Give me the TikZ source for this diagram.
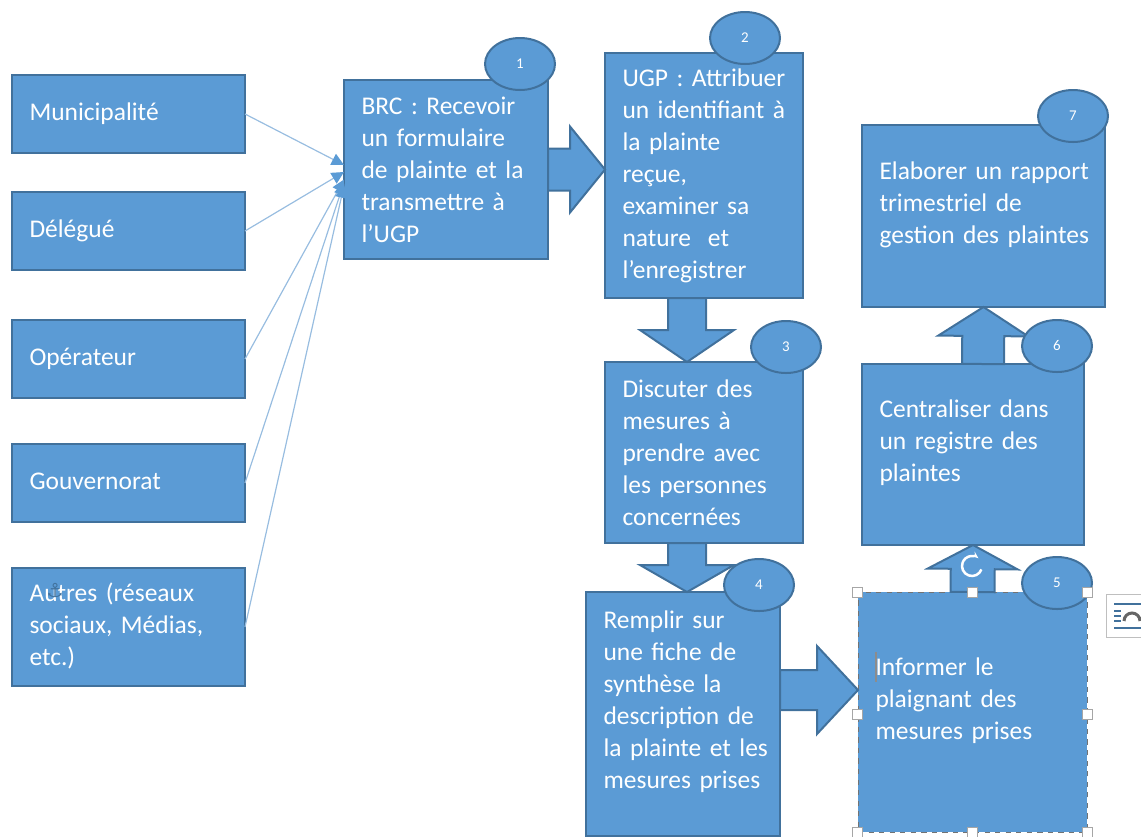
\documentclass[tikz,border=0pt]{standalone}
\usepackage{fontspec}
\setmainfont{Carlito}
\newfontfamily\symbfont{DejaVu Sans}
\usetikzlibrary{calc,arrows.meta,shapes.geometric}
\definecolor{boxblue}{HTML}{5B9BD5}
\definecolor{boxline}{HTML}{41719C}
\definecolor{thinblue}{HTML}{98BDE0}
\def\px{0.02cm}
\def\boxstrut{\rule[-4pt]{0pt}{15pt}}
\tikzset{
    bluebox/.style 2 args={draw=boxline, fill=boxblue, line width=2*\px, anchor=north west,
        minimum width=#1*\px, minimum height=#2*\px, text width=#1*\px-35*\px,
        inner xsep=17.5*\px, inner ysep=0pt, outer sep=0pt, align=left, text=white,
        font=\fontsize{14.5}{18.2}\selectfont,
        execute at begin node={\rightskip=-15pt plus 1fil\relax}},
    badge/.style={draw=boxline, fill=boxblue, line width=2*\px, ellipse, minimum width=70*\px,
        minimum height=52*\px, inner sep=0pt, text=white, font=\fontsize{8.5}{10}\selectfont},
    thinarrow/.style={draw=thinblue, line width=1.2*\px,
        -{Triangle[length=7pt,width=7pt,color=boxblue]}},
    blockarrow/.style n args={3}{draw=boxline, fill=boxblue, line width=2*\px, line join=miter,
        to path={
            ($(\tikztostart)!#1*\px!90:(\tikztotarget)$)
            -- ($($(\tikztotarget)!#3*\px!(\tikztostart)$)!#1*\px!90:(\tikztotarget)$)
            -- ($($(\tikztotarget)!#3*\px!(\tikztostart)$)!#2*\px!90:(\tikztotarget)$)
            -- (\tikztotarget)
            -- ($($(\tikztotarget)!#3*\px!(\tikztostart)$)!#2*\px!-90:(\tikztotarget)$)
            -- ($($(\tikztotarget)!#3*\px!(\tikztostart)$)!#1*\px!-90:(\tikztotarget)$)
            -- ($(\tikztostart)!#1*\px!-90:(\tikztotarget)$)
            -- cycle}},
    handle/.style={draw=black!35, fill=white, line width=1*\px, minimum size=10*\px, inner sep=0pt}
}

\begin{document}
\begin{tikzpicture}[x=\px, y=-\px]
    \useasboundingbox (0, 0) rectangle (1141, 836);
    \clip (0, 0) rectangle (1141, 836);

    % sources
    \foreach \name/\ypos/\hgt/\lbl in {muni/75/78/{Municipalité}, dele/192/78/{Délégué},
        oper/320/78/{Opérateur}, gouv/444/78/{Gouvernorat},
        autr/568/118/{Autres (réseaux\\ sociaux, Médias,\\ etc.)}} {
        \node[bluebox={233}{\hgt}] (\name) at (12, \ypos) {\boxstrut\lbl\boxstrut};
    }

    % steps
    \node[bluebox={204}{179}] (brc) at (344, 80) {BRC : Recevoir\\ un formulaire\\ de plainte et la\\ transmettre à\\ l’UGP};
    \node[bluebox={198}{245}] (ugp) at (605, 53) {UGP : Attribuer\\ un identifiant à\\ la plainte\\ reçue,\\ examiner sa\\ nature~ et\\ l’enregistrer};
    \node[bluebox={198}{181}] (disc) at (605, 362) {Discuter des\\ mesures à\\ prendre avec\\ les personnes\\ concernées};
    \node[bluebox={194}{244}] (fiche) at (586, 592) {Remplir sur\\ une fiche de\\ synthèse la\\ description de\\ la plainte et les\\ mesures prises\\[-2.3pt] ~};
    \node[bluebox={229}{240}, draw=black!55, dashed, line width=1*\px] (info) at (858, 592) {Informer le\\ plaignant des\\ mesures prises\\[-3.4pt] ~};
    \node[bluebox={222}{181}] (regi) at (862, 364) {Centraliser dans\\ un registre des\\ plaintes\\[-2.3pt] ~};
    \node[bluebox={243}{182}] (rapp) at (862, 125) {Elaborer un rapport\\ trimestriel de\\ gestion des plaintes\\[-3.4pt] ~};

    % thin arrows into the first step
    \foreach \name/\off in {muni/4.5, dele/-2.5, oper/-10, gouv/-13, autr/-16} {
        \draw[thinarrow] (\name.east) -- ([yshift=\off*\px]brc.west);
    }

    % block arrows
    \draw[blockarrow={21}{43}{35}] (brc.east) to (brc.east -| ugp.west);
    \draw[blockarrow={19}{47}{32}] ([xshift=-17*\px]ugp.south) to ([xshift=-17*\px]disc.north);
    \draw[blockarrow={19}{47}{27}] ([xshift=-17*\px]disc.south) to ([xshift=4*\px]fiche.north);
    \draw[blockarrow={20}{44}{41}] ([yshift=24*\px]fiche.east) to ([yshift=22*\px]info.west);
    \draw[blockarrow={22}{45}{24}] (info.north) to (regi.south);
    \draw[blockarrow={21}{45}{29}] ([xshift=10*\px]regi.north) to (rapp.south);

    % numbers
    \foreach \name/\xpos/\ypos/\lbl in {bda/520/64/1, bdb/745/38/2, bdc/786/347/3, bdd/759/585/4,
        bde/1057/583/5, bdf/1057/346/6, bdg/1073/116/7} {
        \node[badge] (\name) at (\xpos, \ypos) {\lbl};
    }

    % editor marks
    \foreach \hname/\xpos/\ypos in {ha/857/592, hb/972/592, hc/1087/592, hd/857/714,
        he/1087/714, hf/857/832, hg/972/832, hh/1087/832} {
        \node[handle] (\hname) at (\xpos, \ypos) {};
    }
    \draw[white, line width=2.5*\px, -{Stealth[length=4pt]}] (981.4, 569.4) arc (20:310:10);
    \draw[black!45, line width=1.5*\px] (876, 652) -- (876, 682);
    \node[text=boxline, font=\symbfont\fontsize{11}{11}\selectfont, inner sep=0pt] (anchormark) at (55, 591) {⚓};
    \draw[black!25, fill=white, line width=1*\px] (1106, 594) rectangle (1160, 637);
    \foreach \ypos in {604, 628} {
        \draw[boxline, line width=1.5*\px] (1114, \ypos) -- (1150, \ypos);
    }
    \foreach \ypos in {611, 616, 621} {
        \draw[boxline, line width=1.5*\px] (1114, \ypos) -- (1121, \ypos);
    }
    \draw[black!60, line width=3*\px] (1124, 621) arc (180:360:8);
\end{tikzpicture}
\end{document}
